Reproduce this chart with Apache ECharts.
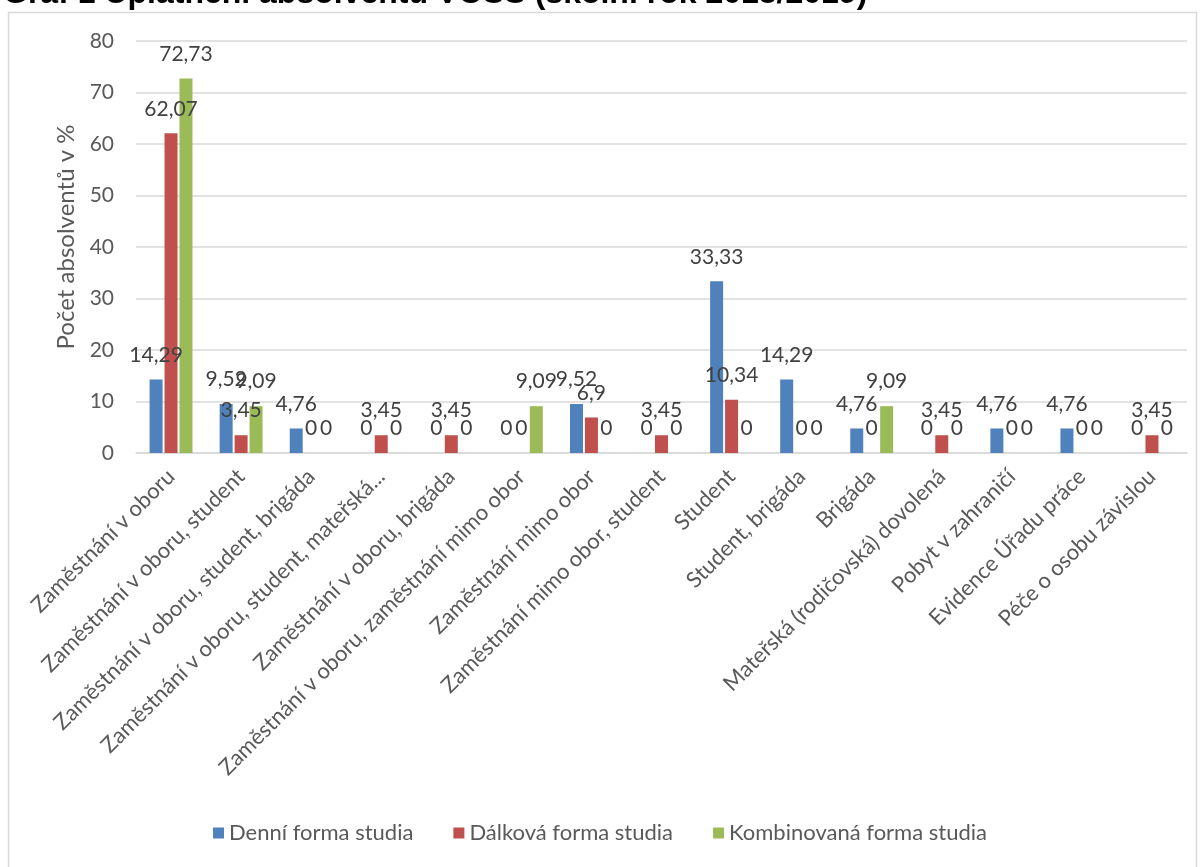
<!DOCTYPE html>
<html>
<head>
<meta charset="utf-8">
<script src="https://cdn.jsdelivr.net/npm/echarts@6/dist/echarts.min.js"></script>
<style>
html,body{margin:0;padding:0;background:#fff;}
#chart{width:1200px;height:867px;}
</style>
</head>
<body>
<div id="chart"></div>
<script>
const titleText = 'Graf 1 Uplatnění absolventů VOŠS (školní rok 2018/2019)';
const categories = [
  'Zaměstnání v oboru',
  'Zaměstnání v oboru, student',
  'Zaměstnání v oboru, student, brigáda',
  'Zaměstnání v oboru, student, mateřská...',
  'Zaměstnání v oboru, brigáda',
  'Zaměstnání v oboru, zaměstnání mimo obor',
  'Zaměstnání mimo obor',
  'Zaměstnání mimo obor, student',
  'Student',
  'Student, brigáda',
  'Brigáda',
  'Mateřská (rodičovská) dovolená',
  'Pobyt v zahraničí',
  'Evidence Úřadu práce',
  'Péče o osobu závislou'
];
const seriesNames = ['Denní forma studia', 'Dálková forma studia', 'Kombinovaná forma studia'];
const denni     = [14.29, 9.52, 4.76, 0, 0, 0, 9.52, 0, 33.33, 14.29, 4.76, 0, 4.76, 4.76, 0];
const dalkova   = [62.07, 3.45, 0, 3.45, 3.45, 0, 6.9, 3.45, 10.34, 0, 0, 3.45, 0, 0, 3.45];
const kombinovana = [72.73, 9.09, 0, 0, 0, 9.09, 0, 0, 0, 0, 9.09, 0, 0, 0, 0];
const yAxisName = 'Počet absolventů v %';
const yTicks = { min: 0, max: 80, interval: 10 };
const colors = ['#4F81BD', '#C0504D', '#9BBB59'];

const FONT = 'Lato';
const chart = echarts.init(document.getElementById('chart'));

function mkSeries(name, data, color) {
  return {
    name: name,
    type: 'bar',
    data: data,
    barWidth: 13,
    barGap: '15%',
    itemStyle: { color: color },
    label: {
      show: true,
      position: 'top',
      distance: 14,
      fontFamily: FONT,
      fontSize: 21,
      color: '#404040',
      formatter: p => String(p.value).replace('.', ',')
    }
  };
}

chart.setOption({
  animation: false,
  backgroundColor: '#fff',
  color: colors,
  graphic: [
    {
      type: 'rect',
      shape: { x: 8.5, y: 12.5, width: 1188, height: 860 },
      style: { fill: 'none', stroke: '#D9D9D9', lineWidth: 1.5 },
      silent: true
    },
    {
      type: 'text',
      left: 3,
      top: -22,
      style: {
        text: titleText,
        font: 'bold 32px "Liberation Sans", Arial, sans-serif',
        fill: '#000'
      }
    }
  ],
  legend: {
    bottom: 18,
    left: 'center',
    itemWidth: 11,
    itemHeight: 11,
    itemGap: 40,
    icon: 'rect',
    textStyle: { fontFamily: FONT, fontSize: 22, color: '#595959' },
    data: seriesNames
  },
  grid: { left: 136, right: 13, top: 41, bottom: 414 },
  xAxis: {
    type: 'category',
    data: categories,
    axisLine: { show: true, lineStyle: { color: '#D9D9D9', width: 1.5 } },
    axisTick: { show: false },
    axisLabel: {
      rotate: 45,
      interval: 0,
      margin: 20,
      fontFamily: FONT,
      fontSize: 22,
      color: '#595959'
    }
  },
  yAxis: {
    type: 'value',
    min: yTicks.min,
    max: yTicks.max,
    interval: yTicks.interval,
    name: yAxisName,
    nameLocation: 'middle',
    nameGap: 57,
    nameTextStyle: { fontFamily: FONT, fontSize: 24, color: '#595959', padding: [0, 0, 0, 20] },
    axisLine: { show: false },
    axisTick: { show: false },
    axisLabel: { fontFamily: FONT, fontSize: 21, color: '#595959', margin: 22 },
    splitLine: { lineStyle: { color: '#D9D9D9', width: 1.5 } }
  },
  series: [
    mkSeries(seriesNames[0], denni, colors[0]),
    mkSeries(seriesNames[1], dalkova, colors[1]),
    mkSeries(seriesNames[2], kombinovana, colors[2])
  ]
});
</script>
</body>
</html>
